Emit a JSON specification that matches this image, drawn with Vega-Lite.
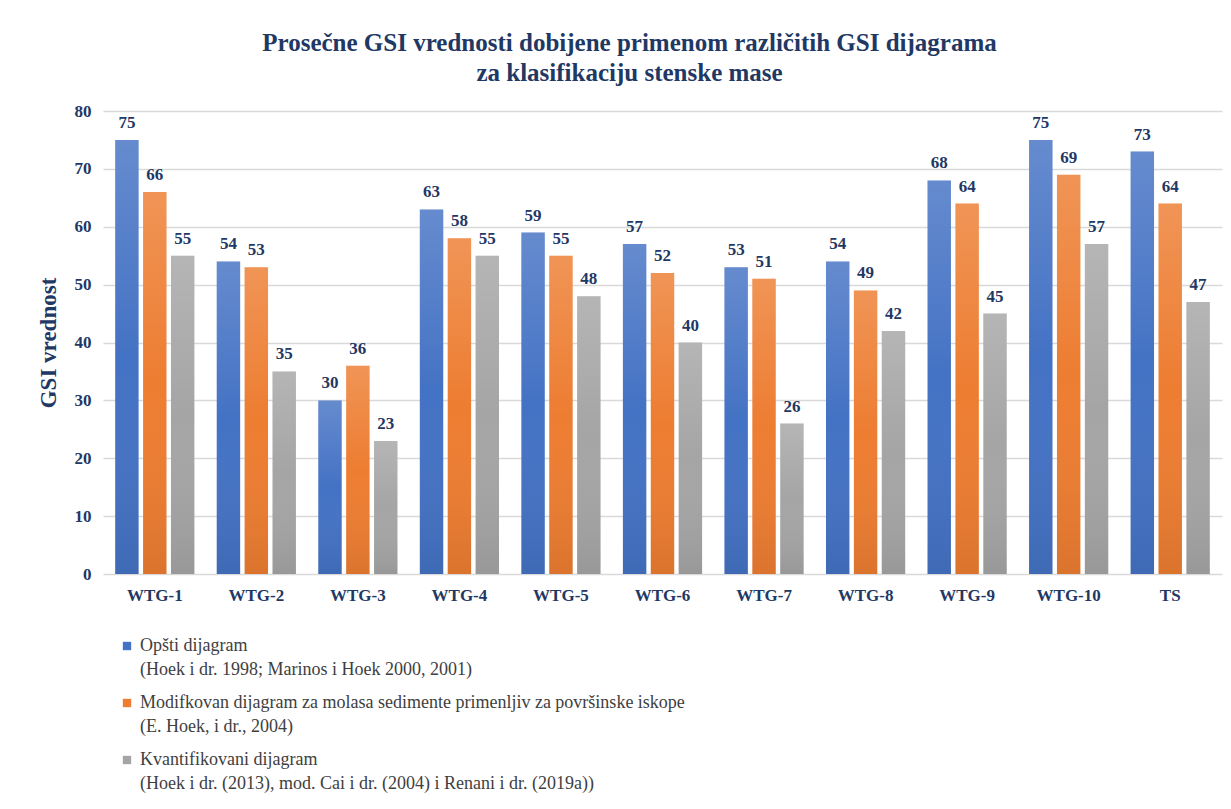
{
  "$schema": "https://vega.github.io/schema/vega-lite/v6.json",
  "width": 1119,
  "height": 463,
  "padding": {"left": 37, "top": 31, "right": 9, "bottom": 5},
  "background": "white",
  "title": {
    "text": ["Prosečne GSI vrednosti dobijene primenom različitih GSI dijagrama", "za klasifikaciju stenske mase"],
    "font": "Liberation Serif",
    "fontSize": 25,
    "fontWeight": "bold",
    "color": "#1F3864",
    "anchor": "middle",
    "frame": "bounds",
    "lineHeight": 30,
    "offset": 16
  },
  "config": {
    "view": {"stroke": null},
    "font": "Liberation Serif",
    "legend": {"labelFont": "'Liberation Serif', 'Times New Roman', 'DejaVu Serif', serif"},
    "style": {"guide-label": {"lineHeight": 24}}
  },
  "data": {
    "values": [
      {"k": "WTG-1", "s": "Opšti dijagram|(Hoek i dr. 1998; Marinos i Hoek 2000, 2001)", "v": 75},
      {"k": "WTG-1", "s": "Modifkovan dijagram za molasa sedimente primenljiv za površinske iskope|(E. Hoek, i dr., 2004)", "v": 66},
      {"k": "WTG-1", "s": "Kvantifikovani dijagram|(Hoek i dr. (2013), mod. Cai i dr. (2004) i Renani i dr. (2019a))", "v": 55},
      {"k": "WTG-2", "s": "Opšti dijagram|(Hoek i dr. 1998; Marinos i Hoek 2000, 2001)", "v": 54},
      {"k": "WTG-2", "s": "Modifkovan dijagram za molasa sedimente primenljiv za površinske iskope|(E. Hoek, i dr., 2004)", "v": 53},
      {"k": "WTG-2", "s": "Kvantifikovani dijagram|(Hoek i dr. (2013), mod. Cai i dr. (2004) i Renani i dr. (2019a))", "v": 35},
      {"k": "WTG-3", "s": "Opšti dijagram|(Hoek i dr. 1998; Marinos i Hoek 2000, 2001)", "v": 30},
      {"k": "WTG-3", "s": "Modifkovan dijagram za molasa sedimente primenljiv za površinske iskope|(E. Hoek, i dr., 2004)", "v": 36},
      {"k": "WTG-3", "s": "Kvantifikovani dijagram|(Hoek i dr. (2013), mod. Cai i dr. (2004) i Renani i dr. (2019a))", "v": 23},
      {"k": "WTG-4", "s": "Opšti dijagram|(Hoek i dr. 1998; Marinos i Hoek 2000, 2001)", "v": 63},
      {"k": "WTG-4", "s": "Modifkovan dijagram za molasa sedimente primenljiv za površinske iskope|(E. Hoek, i dr., 2004)", "v": 58},
      {"k": "WTG-4", "s": "Kvantifikovani dijagram|(Hoek i dr. (2013), mod. Cai i dr. (2004) i Renani i dr. (2019a))", "v": 55},
      {"k": "WTG-5", "s": "Opšti dijagram|(Hoek i dr. 1998; Marinos i Hoek 2000, 2001)", "v": 59},
      {"k": "WTG-5", "s": "Modifkovan dijagram za molasa sedimente primenljiv za površinske iskope|(E. Hoek, i dr., 2004)", "v": 55},
      {"k": "WTG-5", "s": "Kvantifikovani dijagram|(Hoek i dr. (2013), mod. Cai i dr. (2004) i Renani i dr. (2019a))", "v": 48},
      {"k": "WTG-6", "s": "Opšti dijagram|(Hoek i dr. 1998; Marinos i Hoek 2000, 2001)", "v": 57},
      {"k": "WTG-6", "s": "Modifkovan dijagram za molasa sedimente primenljiv za površinske iskope|(E. Hoek, i dr., 2004)", "v": 52},
      {"k": "WTG-6", "s": "Kvantifikovani dijagram|(Hoek i dr. (2013), mod. Cai i dr. (2004) i Renani i dr. (2019a))", "v": 40},
      {"k": "WTG-7", "s": "Opšti dijagram|(Hoek i dr. 1998; Marinos i Hoek 2000, 2001)", "v": 53},
      {"k": "WTG-7", "s": "Modifkovan dijagram za molasa sedimente primenljiv za površinske iskope|(E. Hoek, i dr., 2004)", "v": 51},
      {"k": "WTG-7", "s": "Kvantifikovani dijagram|(Hoek i dr. (2013), mod. Cai i dr. (2004) i Renani i dr. (2019a))", "v": 26},
      {"k": "WTG-8", "s": "Opšti dijagram|(Hoek i dr. 1998; Marinos i Hoek 2000, 2001)", "v": 54},
      {"k": "WTG-8", "s": "Modifkovan dijagram za molasa sedimente primenljiv za površinske iskope|(E. Hoek, i dr., 2004)", "v": 49},
      {"k": "WTG-8", "s": "Kvantifikovani dijagram|(Hoek i dr. (2013), mod. Cai i dr. (2004) i Renani i dr. (2019a))", "v": 42},
      {"k": "WTG-9", "s": "Opšti dijagram|(Hoek i dr. 1998; Marinos i Hoek 2000, 2001)", "v": 68},
      {"k": "WTG-9", "s": "Modifkovan dijagram za molasa sedimente primenljiv za površinske iskope|(E. Hoek, i dr., 2004)", "v": 64},
      {"k": "WTG-9", "s": "Kvantifikovani dijagram|(Hoek i dr. (2013), mod. Cai i dr. (2004) i Renani i dr. (2019a))", "v": 45},
      {"k": "WTG-10", "s": "Opšti dijagram|(Hoek i dr. 1998; Marinos i Hoek 2000, 2001)", "v": 75},
      {"k": "WTG-10", "s": "Modifkovan dijagram za molasa sedimente primenljiv za površinske iskope|(E. Hoek, i dr., 2004)", "v": 69},
      {"k": "WTG-10", "s": "Kvantifikovani dijagram|(Hoek i dr. (2013), mod. Cai i dr. (2004) i Renani i dr. (2019a))", "v": 57},
      {"k": "TS", "s": "Opšti dijagram|(Hoek i dr. 1998; Marinos i Hoek 2000, 2001)", "v": 73},
      {"k": "TS", "s": "Modifkovan dijagram za molasa sedimente primenljiv za površinske iskope|(E. Hoek, i dr., 2004)", "v": 64},
      {"k": "TS", "s": "Kvantifikovani dijagram|(Hoek i dr. (2013), mod. Cai i dr. (2004) i Renani i dr. (2019a))", "v": 47}
    ]
  },
  "encoding": {
    "x": {
      "field": "k", "type": "nominal", "sort": null,
      "scale": {"paddingInner": 0.22, "paddingOuter": 0.12},
      "axis": {
        "title": null, "labelAngle": 0, "domain": false, "ticks": false,
        "labelFont": "Liberation Serif", "labelFontSize": 17, "labelFontWeight": "bold",
        "labelColor": "#1F3864", "labelPadding": 13
      }
    },
    "xOffset": {
      "field": "s", "type": "nominal", "sort": null,
      "scale": {"paddingInner": 0.16}
    },
    "y": {
      "field": "v", "type": "quantitative",
      "scale": {"domain": [0, 80]},
      "axis": {
        "title": "GSI vrednost", "titleFont": "Liberation Serif", "titleFontSize": 23,
        "titleFontWeight": "bold", "titleColor": "#1F3864", "titlePadding": 14,
        "values": [0, 10, 20, 30, 40, 50, 60, 70, 80],
        "labelFont": "Liberation Serif", "labelFontSize": 17, "labelFontWeight": "bold",
        "labelColor": "#1F3864", "labelPadding": 12,
        "domain": false, "ticks": false,
        "gridColor": "#D9D9D9", "gridWidth": 1.5
      }
    }
  },
  "layer": [
    {
      "mark": {"type": "bar"},
      "encoding": {
        "color": {
          "field": "s", "type": "nominal", "sort": null,
          "scale": {"range": ["#4472C4", "#ED7D31", "#A5A5A5"]},
          "legend": {
            "title": null, "orient": "none", "direction": "vertical",
            "legendX": 15, "legendY": 526,
            "labelExpr": "split(datum.label, '|')",
            "labelFont": "'Liberation Serif', 'Times New Roman', 'DejaVu Serif', serif",
            "labelFontSize": 18, "labelColor": "#404040",
            "labelLimit": 0, "symbolType": "square", "symbolSize": 70,
            "rowPadding": 15, "labelOffset": 4
          }
        }
      }
    },
    {
      "mark": {
        "type": "bar",
        "color": {
          "gradient": "linear", "x1": 0, "y1": 0, "x2": 0, "y2": 1,
          "stops": [
            {"offset": 0, "color": "rgba(255,255,255,0.18)"},
            {"offset": 0.5, "color": "rgba(255,255,255,0)"},
            {"offset": 1, "color": "rgba(0,0,0,0.08)"}
          ]
        }
      },
      "encoding": {}
    },
    {
      "mark": {
        "type": "text", "dy": -17, "font": "Liberation Serif", "fontSize": 17,
        "fontWeight": "bold", "color": "#1F3864"
      },
      "encoding": {"text": {"field": "v", "type": "quantitative"}}
    }
  ]
}
